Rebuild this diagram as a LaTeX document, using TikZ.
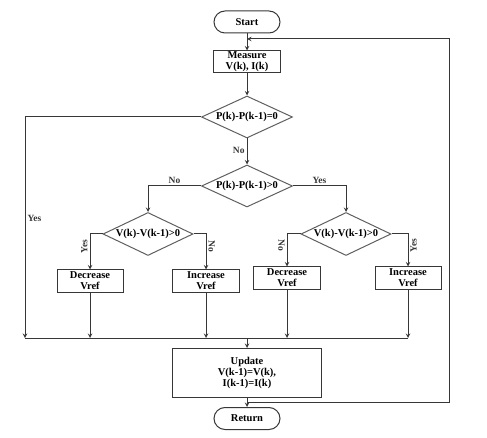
\documentclass[tikz,border=0pt]{standalone}
\usepackage{fontspec}
\setmainfont{Liberation Serif}
\usetikzlibrary{positioning,shapes.geometric}
\definecolor{lineGray}{RGB}{55,55,55}
\definecolor{diaGray}{RGB}{95,95,95}

\begin{document}
\begin{tikzpicture}[
    x=1pt, y=-1pt,
    font=\fontsize{10.5}{11}\selectfont\bfseries,
    term/.style={
        draw=lineGray, line width=1pt, rounded corners=11pt, inner sep=0pt,
        minimum width=66pt, minimum height=22pt
    },
    box/.style={
        draw=lineGray, line width=1pt, align=center, inner sep=0.5pt,
        minimum width=66pt, minimum height=22pt
    },
    decision/.style={
        draw=diaGray, line width=1pt, diamond, aspect=2.1, inner sep=0pt,
        minimum width=91pt, minimum height=42pt
    },
    arrow/.style={->, >=stealth, line width=1pt, color=lineGray},
    line/.style={line width=1pt, color=lineGray},
    lbl/.style={font=\fontsize{9.5}{10}\selectfont\bfseries, inner sep=2pt}
]
    \useasboundingbox (0,0) rectangle (487,438);

    \node[term] (start) at (247,22) {Start};
    \node[box, below=17pt of start, minimum width=67pt] (measure) {Measure\\V(k), I(k)};
    \node[decision, below=22pt of measure] (cmpEq) {P(k)-P(k-1)=0};
    \node[decision, below=26pt of cmpEq] (cmpP) {P(k)-P(k-1)>0};
    \node[decision, minimum width=90pt, minimum height=43pt] (cmpVL) at (148,234) {V(k)-V(k-1)>0};
    \node[decision, minimum width=90pt, minimum height=43pt] (cmpVR) at (346,234) {V(k)-V(k-1)>0};
    \node[box] (decL) at (90,281) {Decrease\\Vref};
    \node[box, minimum width=67pt] (incL) at (206,281) {Increase\\Vref};
    \node[box, minimum width=67pt] (decR) at (287,278) {Decrease\\Vref};
    \node[box] (incR) at (408,278) {Increase\\Vref};
    \node[box, minimum width=149pt, minimum height=49pt] (update) at (247,373) {Update\\V(k-1)=V(k),\\I(k-1)=I(k)};
    \node[term, below=9pt of update] (ret) {Return};

    \coordinate (fbTop) at (449,39);
    \coordinate (fbBot) at (449,402);
    \coordinate (mergeL) at (25,338);

    \draw[arrow] (start) -- (measure);
    \draw[arrow] (measure) -- (cmpEq);
    \draw[arrow] (cmpEq) -- node[lbl, left, pos=0.45] {No} (cmpP);
    \draw[arrow] (cmpEq.west) -| node[lbl, right, pos=0.73] {Yes} (mergeL);
    \draw[arrow] (cmpP.west) -| node[lbl, above, pos=0.25] {No} (cmpVL.north);
    \draw[arrow] (cmpP.east) -| node[lbl, above, pos=0.25] {Yes} (cmpVR.north);

    \draw[arrow] (cmpVL.west) -| node[lbl, rotate=90, anchor=south, pos=0.68] {Yes} (decL.north);
    \draw[arrow] (cmpVL.east) -| node[lbl, rotate=-90, anchor=south, pos=0.68] {No} (incL.north);
    \draw[arrow] (cmpVR.west) -| node[lbl, rotate=-90, anchor=north, pos=0.68] {No} (decR.north);
    \draw[arrow] (cmpVR.east) -| node[lbl, rotate=90, anchor=north, pos=0.68] {Yes} (incR.north);

    \draw[arrow] (decL) -- (decL |- mergeL);
    \draw[arrow] (incL) -- (incL |- mergeL);
    \draw[arrow] (decR) -- (decR |- mergeL);
    \draw[arrow] (incR) -- (incR |- mergeL);
    \draw[line] (mergeL) -- (incR |- mergeL);
    \draw[arrow] (update.north |- mergeL) -- (update);
    \draw[arrow] (update) -- (ret);

    \draw[arrow] (update.south |- fbBot) -- (fbBot) -- (fbTop) -- (start.south |- fbTop);
\end{tikzpicture}
\end{document}
